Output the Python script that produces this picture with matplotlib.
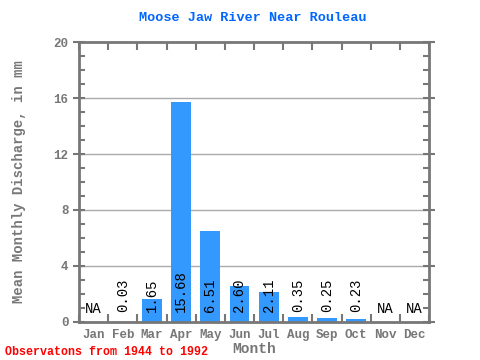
import numpy as np
import matplotlib.pyplot as plt
from matplotlib.ticker import MultipleLocator

# ── data ────────────────────────────────────────────────────────────────────
months = ["Jan", "Feb", "Mar", "Apr", "May", "Jun",
          "Jul", "Aug", "Sep", "Oct", "Nov", "Dec"]
discharge = [np.nan, 0.03, 1.65, 15.68, 6.51, 2.60,
             2.11, 0.35, 0.25, 0.23, np.nan, np.nan]
value_labels = ["NA", "0.03", "1.65", "15.68", "6.51", "2.60",
                "2.11", "0.35", "0.25", "0.23", "NA", "NA"]

AX_COL = "#777777"
BAR_COL = "#3399ff"
MONO = ["Liberation Mono", "DejaVu Sans Mono"]
plt.rcParams["font.family"] = MONO

fig = plt.figure(figsize=(4.8, 3.6), dpi=100, facecolor="white")
ax = fig.add_axes([0.1646, 0.1056, 0.7292, 0.7777])

x = np.arange(len(months))
heights = np.nan_to_num(np.array(discharge, dtype=float))
ax.bar(x, heights, width=0.68, color=BAR_COL, zorder=2)

for xi, val, lab in zip(x, discharge, value_labels):
    if np.isnan(val):
        ax.text(xi, 0.45, lab, ha="center", va="bottom", fontsize=10,
                color="black", zorder=3)
    else:
        ax.text(xi, 0.7, lab, ha="center", va="bottom", rotation=90,
                fontsize=10, color="black", zorder=3)

ax.set_xlim(-0.5, 11.5)
ax.set_ylim(0, 20)

# gridlines at major y ticks
for yv in [4, 8, 12, 16]:
    ax.axhline(yv, color="#aaaaaa", linewidth=1, zorder=1)

ax.yaxis.set_major_locator(MultipleLocator(4))
ax.yaxis.set_minor_locator(MultipleLocator(1))
ax.tick_params(axis="y", which="major", direction="inout", length=8,
               width=1.5, color=AX_COL, labelsize=9, labelcolor=AX_COL,
               right=True)
ax.tick_params(axis="y", which="minor", direction="in", length=4,
               width=1.5, color=AX_COL, right=True)

ax.set_xticks(x)
ax.set_xticklabels(months)
ax.set_xticks(np.arange(-0.5, 12, 1), minor=True)
ax.tick_params(axis="x", which="major", length=0, labelsize=9,
               labelcolor=AX_COL, pad=5)
ax.tick_params(axis="x", which="minor", direction="in", length=6,
               width=1.5, color=AX_COL, top=True)

for lab in ax.get_xticklabels() + ax.get_yticklabels():
    lab.set_fontweight("bold")

for sp in ax.spines.values():
    sp.set_color(AX_COL)
    sp.set_linewidth(2)

ax.set_xlabel("Month", fontsize=10.5, color=AX_COL, fontweight="bold",
              labelpad=1)
ax.set_ylabel("Mean Monthly Discharge, in mm", fontsize=10, color=AX_COL,
              fontweight="bold", labelpad=20)

fig.text(0.527, 0.95, "Moose Jaw River Near Rouleau", ha="center",
         va="center", fontsize=9.7, color="#0066ff", fontweight="bold")
fig.text(0.01, 0.022, "Observatons from 1944 to 1992", ha="left",
         va="center", fontsize=8.4, color="#ff0000", fontweight="bold")

fig.savefig("out.png", dpi=100)
